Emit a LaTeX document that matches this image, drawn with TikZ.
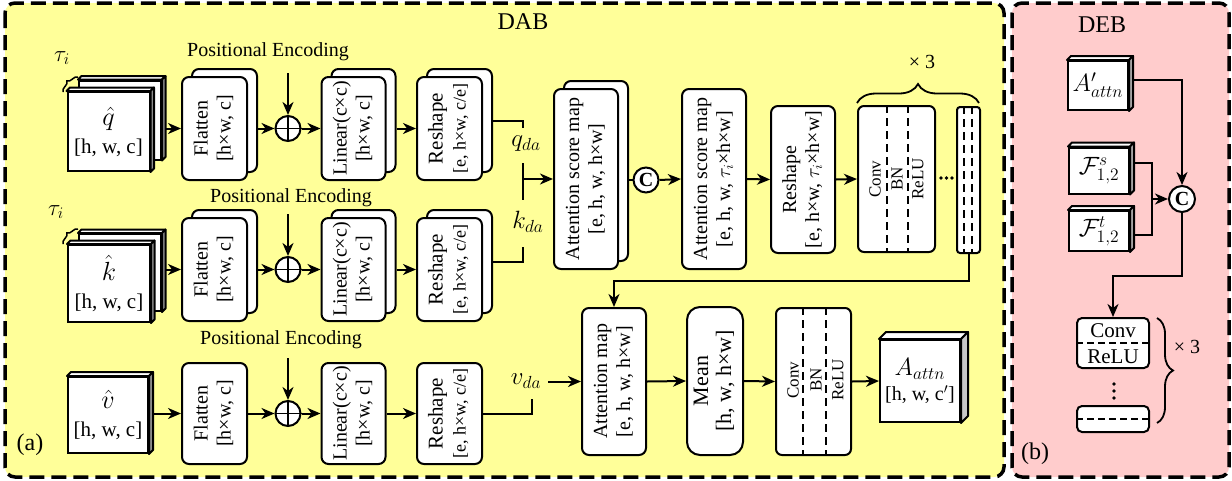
\RequirePackage{fix-cm}
\documentclass[tikz,border=0pt]{standalone}
\usepackage{graphicx}
\usepackage{fontspec}
\setmainfont{Liberation Serif}
\usetikzlibrary{arrows.meta,decorations.pathreplacing,calc}
\definecolor{dabyellow}{RGB}{255,255,153}
\definecolor{debpink}{RGB}{255,204,204}
\newcommand\vt[1]{\rotatebox{90}{\begin{tabular}{@{}c@{}}#1\end{tabular}}}
\newcommand\cubefaces[3]{%
  \draw[cl,fill=white] (#1.north west) -- ++(#2,-#2) -- ($(#1.north east)+(#2,-#2)$) -- (#1.north east) -- cycle;
  \draw[cl,fill=#3] (#1.north east) -- ++(#2,-#2) -- ($(#1.south east)+(#2,-#2)$) -- (#1.south east) -- cycle;}
\newcommand\stackbox[6]{%
  \node[blk,minimum width=#4,minimum height=#5] (#1b) at (#2+10,#3-8) {};
  \node[blk,minimum width=#4,minimum height=#5] (#1) at (#2,#3) {#6};}
\newcommand\oplusnode[3]{%
  \node[circ] (#1) at (#2,#3) {};
  \draw[line width=1.6pt] (#1.north) -- (#1.south) (#1.west) -- (#1.east);}
\newcommand\mbig[1]{\scalebox{1.25}{$#1$}}
\newcommand\mmid[1]{\scalebox{1.15}{$#1$}}
\begin{document}
\begin{tikzpicture}[x=1pt,y=-1pt,
  font=\fontsize{20}{23}\selectfont,
  blk/.style={draw,line width=2pt,fill=white,rounded corners=7pt,inner sep=0pt,align=center},
  cubef/.style={draw,line width=2pt,fill=white,inner sep=0pt,align=center},
  cl/.style={line width=2pt,line join=round},
  ln/.style={line width=2pt},
  arr/.style={line width=2pt,-{Stealth[length=13pt,width=11pt,inset=4pt]}},
  circ/.style={draw,circle,line width=2pt,fill=white,minimum size=25pt,inner sep=0pt},
  dsh/.style={line width=1.6pt,dash pattern=on 8pt off 5pt},
  panel/.style={line width=3.5pt,dash pattern=on 15pt off 7pt,rounded corners=10pt},
  brc/.style={decorate,decoration={brace,amplitude=#1},line width=1.8pt},
  small/.style={font=\fontsize{17}{20}\selectfont},
  big/.style={font=\fontsize{24}{28}\selectfont},
  cubetext/.style={font=\fontsize{21}{25}\selectfont}
]
\useasboundingbox (0,0) rectangle (1232,480);
% panels
\draw[panel,fill=dabyellow] (5,3) rectangle (1004,477);
\draw[panel,fill=debpink] (1012,3) rectangle (1229,477);
\node[big] (dab) at (523,22) {DAB};
\node[big] (deb) at (1102,25) {DEB};
\node[big] (la) at (30,445) {(a)};
\node[big] (lb) at (1035,454) {(b)};

% ---------- row 1 (q) ----------
\node[cubef,minimum width=82pt,minimum height=79pt] (qb) at (120,120) {};
\cubefaces{qb}{3.5}{black!45}
\node[cubef,cubetext,minimum width=82pt,minimum height=79pt] (q) at (108.5,131.5) {\mbig{\hat{q}}\\[3pt]{}[h, w, c]};
\cubefaces{q}{3.5}{black!45}
\draw[brc=5pt,line width=1.5pt] (63,92) -- (78,77);
\node (tau1) at (62,58) {\mmid{\tau_i}};
\coordinate (qo) at ($(qb.east)+(3.5,0)$);
\stackbox{f1}{214.5}{128.5}{65pt}{103pt}{\vt{Flatten\\{}[h×w, c]}}
\oplusnode{o1}{288}{128.5}
\node (pe1) at (268,52) {Positional Encoding};
\stackbox{l1}{353.5}{128.5}{64pt}{103pt}{\vt{Linear(c×c)\\{}[h×w, c]}}
\stackbox{r1}{449.5}{128.5}{65pt}{103pt}{\vt{{\fontsize{21}{24}\selectfont Reshape}\\{\fontsize{18}{21}\selectfont [e, h×w, c/e]}}}
\draw[arr] (qo |- f1.west) -- (f1.west);
\draw[arr] (f1b.east |- o1.west) -- (o1.west);
\draw[arr] ($(o1.north)+(0,-42)$) -- (o1.north);
\draw[arr] (o1.east) -- (l1.west);
\draw[arr] (l1b.east |- r1.west) -- (r1.west);

% ---------- row 2 (k) ----------
\node[cubef,minimum width=82pt,minimum height=77pt] (kb) at (120,272.5) {};
\cubefaces{kb}{3.5}{black!45}
\node[cubef,cubetext,minimum width=82pt,minimum height=77pt] (k) at (109,283.5) {\mbig{\hat{k}}\\[3pt]{}[h, w, c]};
\cubefaces{k}{3.5}{black!45}
\draw[brc=5pt,line width=1.5pt] (63,244) -- (78,229);
\node (tau2) at (56,212) {\mmid{\tau_i}};
\coordinate (ko) at ($(kb.east)+(3.5,0)$);
\stackbox{f2}{214.5}{269.5}{65pt}{103pt}{\vt{Flatten\\{}[h×w, c]}}
\oplusnode{o2}{288}{269.5}
\node (pe2) at (291,198) {Positional Encoding};
\stackbox{l2}{353.5}{269.5}{64pt}{103pt}{\vt{Linear(c×c)\\{}[h×w, c]}}
\stackbox{r2}{449.5}{269.5}{65pt}{103pt}{\vt{{\fontsize{21}{24}\selectfont Reshape}\\{\fontsize{18}{21}\selectfont [e, h×w, c/e]}}}
\draw[arr] (ko |- f2.west) -- (f2.west);
\draw[arr] (f2b.east |- o2.west) -- (o2.west);
\draw[arr] ($(o2.north)+(0,-42)$) -- (o2.north);
\draw[arr] (o2.east) -- (l2.west);
\draw[arr] (l2b.east |- r2.west) -- (r2.west);

% ---------- row 3 (v) ----------
\node[cubef,cubetext,minimum width=80pt,minimum height=76pt] (v) at (108,415) {\mbig{\hat{v}}\\[3pt]{}[h, w, c]};
\cubefaces{v}{4}{black!45}
\coordinate (vo) at ($(v.east)+(4,0)$);
\node[blk,minimum width=65pt,minimum height=101pt] (f3) at (214.5,413.5) {\vt{Flatten\\{}[h×w, c]}};
\oplusnode{o3}{288}{413.5}
\node (pe3) at (281,340) {Positional Encoding};
\node[blk,minimum width=64pt,minimum height=101pt] (l3) at (353.5,413.5) {\vt{Linear(c×c)\\{}[h×w, c]}};
\node[blk,minimum width=65pt,minimum height=101pt] (r3) at (449.5,413.5) {\vt{{\fontsize{21}{24}\selectfont Reshape}\\{\fontsize{18}{21}\selectfont [e, h×w, c/e]}}};
\draw[arr] (vo |- f3.west) -- (f3.west);
\draw[arr] (f3.east) -- (o3.west);
\draw[arr] ($(o3.north)+(0,-42)$) -- (o3.north);
\draw[arr] (o3.east) -- (l3.west);
\draw[arr] (l3.east) -- (r3.west);

% ---------- attention score branch ----------
\stackbox{att1}{586}{179}{64pt}{180pt}{\vt{Attention score map\\{}[e, h, w, h×w]}}
\coordinate (qv) at (523,128);
\coordinate (j1) at (523,163);
\coordinate (j2) at (523,200);
\coordinate (kv) at (523,247);
\draw[ln] (r1b.east) -| (qv);
\draw[ln] (j1) -- (j2);
\draw[ln] (kv) |- (r2b.east);
\draw[arr] (j1 |- att1.west) -- (att1.west);
\node (qda) at (526,144) {\mbig{q_{da}}};
\node (kda) at (528,222) {\mbig{k_{da}}};

\node[circ,font=\fontsize{20}{20}\selectfont\bfseries] (c1) at (646,180) {C};
\draw[ln] (att1b.east |- c1.west) -- (c1.west);
\node[blk,minimum width=64pt,minimum height=180pt] (att2) at (714,179) {\vt{Attention score map\\{}[e, h, w, $\tau_i$×h×w]}};
\draw[arr] (c1.east) -- (att2.west);
\node[blk,minimum width=64pt,minimum height=147pt] (r4) at (803,179.5) {\vt{Reshape\\{}[e, h×w, $\tau_i$×h×w]}};
\draw[arr] (att2.east) -- (r4.west);
\node[blk,rounded corners=6pt,minimum width=77pt,minimum height=146pt] (cv1) at (896.5,179) {};
\draw[dsh] ([xshift=-9.5pt]cv1.north) -- ([xshift=-9.5pt]cv1.south);
\draw[dsh] ([xshift=11.5pt]cv1.north) -- ([xshift=11.5pt]cv1.south);
\node[small,rotate=90] (cv1a) at (875,179) {Conv};
\node[small,rotate=90] (cv1b) at (897,179) {BN};
\node[small,rotate=90] (cv1c) at (918,179) {ReLU};
\draw[arr] (r4.east) -- (cv1.west);
\fill (941,178) circle (1.9) (946.5,178) circle (1.9) (952,178) circle (1.9);
\node[blk,rounded corners=3pt,minimum width=23pt,minimum height=146pt] (sb) at (968.5,180) {};
\draw[dsh] ([xshift=-4.5pt]sb.north) -- ([xshift=-4.5pt]sb.south);
\draw[dsh] ([xshift=3.5pt]sb.north) -- ([xshift=3.5pt]sb.south);
\draw[brc=19pt] (857,103) -- (979,103);
\node (x3a) at (922,62) {× 3};

% ---------- attention map branch ----------
\node[blk,minimum width=64pt,minimum height=147pt] (am) at (614,381.5) {\vt{Attention map\\{}[e, h, w, h×w]}};
\draw[arr] (sb.south) -- ++(0,27) -| (am.north);
\coordinate (vc) at (532,399);
\coordinate (vs) at (548,381.5);
\draw[ln] (r3.east) -| (vc);
\node (vda) at (526,381) {\mbig{v_{da}}};
\draw[arr] (vs) -- (am.west);
\node[blk,rounded corners=13pt,minimum width=56pt,minimum height=148pt] (mn) at (715,381) {\vt{{\fontsize{22}{25}\selectfont Mean}\\{\fontsize{22}{25}\selectfont [h, w, h×w]}}};
\draw[arr] (am.east) -- (mn.west);
\node[blk,rounded corners=6pt,minimum width=75pt,minimum height=147pt] (cv2) at (813.5,381.5) {};
\draw[dsh] ([xshift=-10.5pt]cv2.north) -- ([xshift=-10.5pt]cv2.south);
\draw[dsh] ([xshift=12.5pt]cv2.north) -- ([xshift=12.5pt]cv2.south);
\node[small,rotate=90] (cv2a) at (793,380) {Conv};
\node[small,rotate=90] (cv2b) at (816,380) {BN};
\node[small,rotate=90] (cv2c) at (838,380) {ReLU};
\draw[arr] (mn.east) -- (cv2.west);
\node[cubef,minimum width=80pt,minimum height=82pt] (aa) at (920,381) {\mbig{A_{attn}}\\[2pt]{}[h, w, c$'$]};
\cubefaces{aa}{7}{black!22}
\draw[arr] (cv2.east) -- (aa.west);

% ---------- DEB ----------
\node[cubef,minimum width=60pt,minimum height=49pt] (ap) at (1098,85.5) {\mbig{A'_{attn}}};
\cubefaces{ap}{4}{black!35}
\node[cubef,minimum width=60pt,minimum height=46pt] (fs) at (1099,170.5) {\mbig{\mathcal{F}^{s}_{1,2}}};
\cubefaces{fs}{4}{black!35}
\node[cubef,minimum width=60pt,minimum height=40pt] (ft) at (1099,231) {\mbig{\mathcal{F}^{t}_{1,2}}};
\cubefaces{ft}{4}{black!35}
\node[circ,minimum size=26pt,font=\fontsize{20}{20}\selectfont\bfseries] (c2) at (1182,199) {C};
\coordinate (apo) at ($(ap.east)+(4,-5.5)$);
\coordinate (fso) at ($(fs.east)+(4,-7.5)$);
\coordinate (fto) at ($(ft.east)+(4,4)$);
\coordinate (fm) at (1152,199);
\draw[arr] (apo) -| (c2.north);
\draw[ln] (fso) -| (fm) |- (fto);
\draw[arr] (fm) -- (c2.west);
\node[blk,rounded corners=5pt,minimum width=72pt,minimum height=50pt] (cd) at (1113,343) {};
\draw[dsh,dash pattern=on 7pt off 4pt] (cd.west) -- (cd.east);
\node[cubetext] (cdt) at (1113,331) {Conv};
\node[cubetext] (cdr) at (1113,357) {ReLU};
\draw[arr] (c2.south) -- ++(0,63) -| (cd.north);
\fill (1114,384) circle (1.9) (1114,391) circle (1.9) (1114,398) circle (1.9);
\node[blk,rounded corners=5pt,minimum width=72pt,minimum height=26pt] (sd) at (1113,419) {};
\draw[dsh,dash pattern=on 7pt off 4pt] (sd.west) -- (sd.east);
\draw[brc=16pt] (1157,318) -- (1157,423);
\node (x3b) at (1187,347) {× 3};
\end{tikzpicture}
\end{document}
